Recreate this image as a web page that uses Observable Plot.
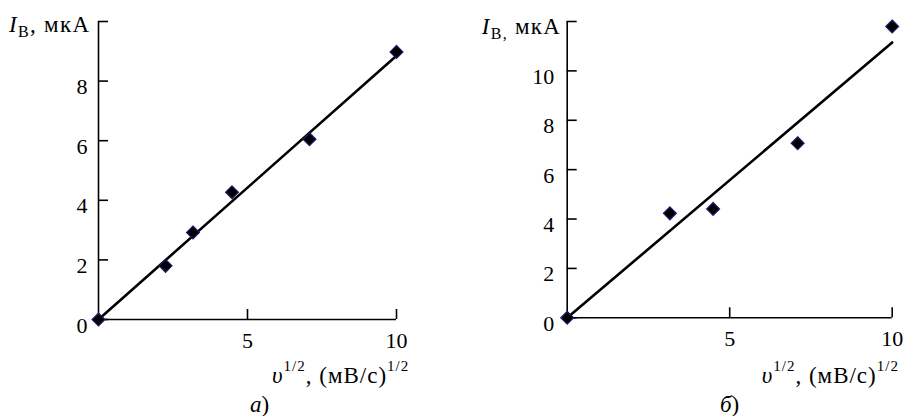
<!DOCTYPE html>
<html><head><meta charset="utf-8">
<script src="https://cdn.jsdelivr.net/npm/d3@7"></script>
<script src="https://cdn.jsdelivr.net/npm/@observablehq/plot@0.6"></script>
<style>
body{margin:0;background:#fff}
#wrap{position:relative;width:912px;height:416px;background:#fff}
#wrap svg{position:absolute;top:0}
#wrap svg, #wrap svg text{font-family:"Liberation Serif","Times New Roman",serif !important}
</style></head><body><div id="wrap"></div>
<script>
// Panel а)
const xA = [0, 2.25, 3.17, 4.48, 7.08, 10];
const yA = [0, 1.8, 2.92, 4.27, 6.05, 8.98];
const fitXA = [0, 10];
const fitYA = [0, 8.85];
const yTicksA = [0, 2, 4, 6, 8, 10];
const yTickLabelsA = ["0", "2", "4", "6", "8", ""];
// Panel б)
const xB = [0, 3.16, 4.49, 7.09, 10];
const yB = [0, 4.23, 4.41, 7.07, 11.8];
const fitXB = [0, 10];
const fitYB = [0, 11.15];
const yTicksB = [0, 2, 4, 6, 8, 10, 12];
const yTickLabelsB = ["0", "2", "4", "6", "8", "10", ""];
// shared x ticks
const xTicks = [5, 10];
const xTickLabels = ["5", "10"];

const FONT = "Liberation Serif, Times New Roman, serif";

function panel(o) {
  const pts = o.xs.map((x, i) => ({x, y: o.ys[i]}));
  const fit = o.fx.map((x, i) => ({x, y: o.fy[i]}));
  return Plot.plot({
    width: 456, height: 416,
    marginTop: 21, marginBottom: o.marginBottom, marginLeft: o.marginLeft, marginRight: o.marginRight,
    x: {domain: [0, 10]},
    y: {domain: o.yDomain},
    style: {fontFamily: FONT, fontSize: "22px", color: "#000", background: "white"},
    marks: [
      Plot.ruleX([0], {stroke: "#000", strokeWidth: 1.6}),
      Plot.ruleY([0], {stroke: "#000", strokeWidth: 1.6}),
      Plot.axisY({ticks: o.yTicks, tickSize: -10, tickFormat: () => "", label: null, strokeWidth: 1.6}),
      Plot.axisY({ticks: o.yTicks, tickSize: 0, tickPadding: o.padY, label: null, fontSize: 22, dy: 6,
        tickFormat: d => o.yLabels[o.yTicks.indexOf(d)]}),
      Plot.axisX({ticks: xTicks, tickSize: -10, tickFormat: () => "", label: null, strokeWidth: 1.6}),
      Plot.axisX({ticks: xTicks, tickSize: 0, tickPadding: 13, label: null, fontSize: 22,
        tickFormat: d => xTickLabels[xTicks.indexOf(d)]}),
      Plot.line(fit, {x: "x", y: "y", stroke: "#000", strokeWidth: 2.6}),
      Plot.dot(pts, {x: "x", y: "y", symbol: "diamond2", r: 5.8, fill: "#000", stroke: "#1c1c70", strokeWidth: 1.2})
    ]
  });
}

function addText(svg, x, y, parts, spacing) {
  const t = d3.select(svg).append("text")
    .attr("x", x).attr("y", y)
    .attr("text-anchor", "start")
    .attr("letter-spacing", spacing)
    .attr("font-family", FONT).attr("font-size", 23).attr("fill", "#000");
  for (const p of parts) {
    const s = t.append("tspan").text(p.t);
    if (p.italic) s.attr("font-style", "italic");
    if (p.size) s.attr("font-size", p.size);
    if (p.dy) s.attr("dy", p.dy);
  }
}

const wrap = document.getElementById("wrap");

const svgA = panel({xs: xA, ys: yA, fx: fitXA, fy: fitYA, yDomain: [0, 10], yTicks: yTicksA, yLabels: yTickLabelsA,
  marginLeft: 98, marginRight: 60, marginBottom: 97, padY: 11});
svgA.style.left = "0px";
wrap.appendChild(svgA);

const svgB = panel({xs: xB, ys: yB, fx: fitXB, fy: fitYB, yDomain: [0, 12], yTicks: yTicksB, yLabels: yTickLabelsB,
  marginLeft: 110.7, marginRight: 20.3, marginBottom: 98.7, padY: 13});
svgB.style.left = "456px";
wrap.appendChild(svgB);

// axis titles
addText(svgA, 9, 32, [
  {t: "I", italic: true}, {t: "В", size: 16, dy: 5}, {t: ", мкА", dy: -5}
], 1.3);
addText(svgB, 25.7, 34, [
  {t: "I", italic: true}, {t: "В,", size: 16, dy: 5}, {t: " мкА", dy: -5}
], 1.3);
const xTitle = [
  {t: "υ", italic: true}, {t: "1/2", size: 15, dy: -12}, {t: ", (мВ/с)", dy: 12}, {t: "1/2", size: 15, dy: -12}
];
addText(svgA, 272, 382.5, xTitle, 1);
addText(svgB, 305.7, 382.5, xTitle, 1);
addText(svgA, 250, 412, [{t: "а", italic: true}, {t: ")"}], 0);
addText(svgB, 264, 412, [{t: "б", italic: true}, {t: ")"}], 0);
</script>
</body></html>
